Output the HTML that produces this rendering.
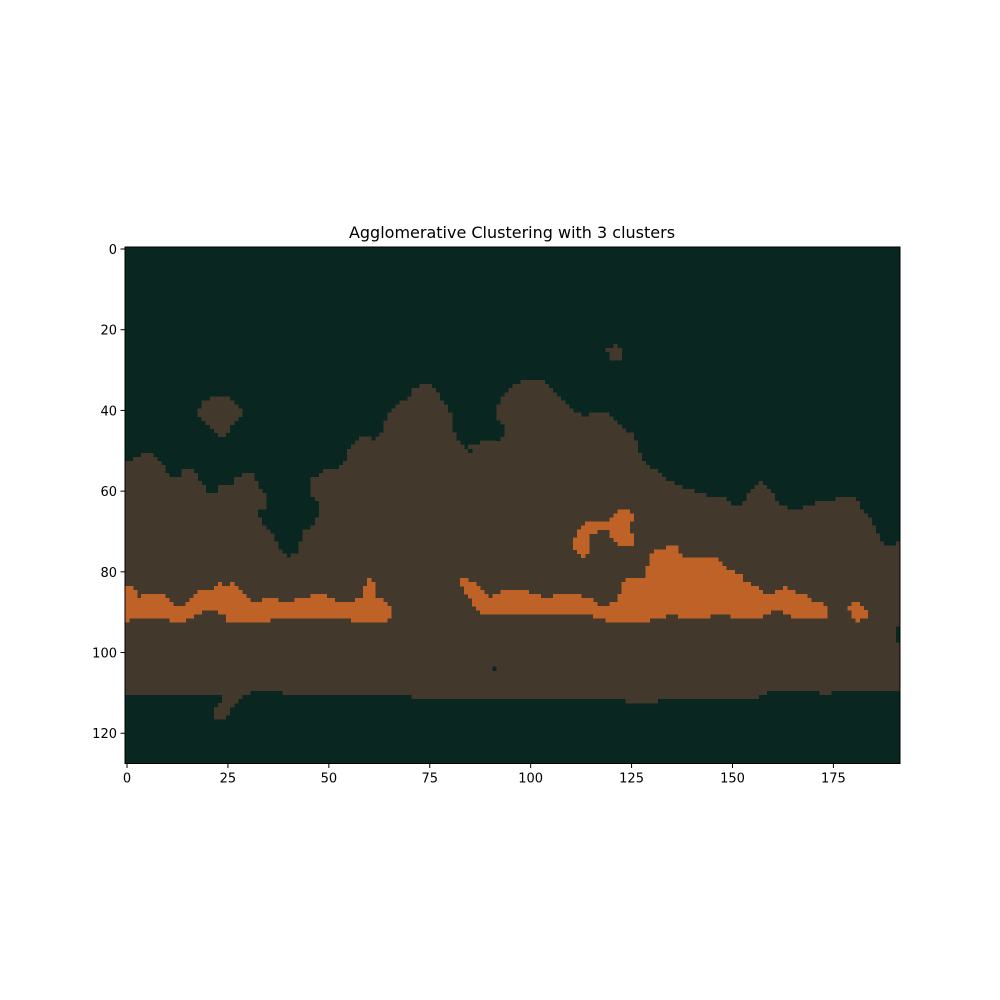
<!DOCTYPE html>
<html><head><meta charset="utf-8"><style>
html,body{margin:0;padding:0;background:#fff;width:1000px;height:1000px;overflow:hidden}
svg text{font-family:"DejaVu Sans","Liberation Sans",sans-serif;fill:#000}
</style></head><body>
<svg id="chart" width="1000" height="1000" viewBox="0 0 1000 1000" xmlns="http://www.w3.org/2000/svg">
<text x="512" y="238" font-size="16" text-anchor="middle">Agglomerative Clustering with 3 clusters</text>
<g id="cells" shape-rendering="crispEdges"></g>
<g id="axes"></g>
</svg>
<script>
const nCols = 192, nRows = 128;
// brown region top edge runs [startCol, firstBrownRow]
const topRuns = [[0,53],[2,52],[4,51],[7,52],[8,53],[9,54],[10,56],[11,57],[14,55],[17,56],[18,58],[19,59],[20,61],[23,59],[27,57],[29,56],[32,58],[33,60],[34,61],[35,70],[36,71],[37,73],[38,75],[39,76],[40,77],[41,76],[43,73],[44,70],[46,57],[48,56],[49,55],[53,54],[54,53],[55,50],[56,49],[57,48],[58,47],[61,48],[62,47],[63,46],[64,43],[65,41],[66,40],[67,39],[68,38],[70,37],[71,35],[73,34],[76,35],[77,36],[78,38],[79,39],[80,41],[81,46],[82,48],[83,49],[84,50],[85,49],[88,48],[92,39],[93,37],[94,36],[95,35],[96,34],[98,33],[104,34],[105,35],[106,36],[107,37],[108,38],[109,39],[110,40],[111,41],[113,42],[115,41],[120,42],[121,43],[122,44],[123,45],[124,46],[126,48],[127,51],[128,53],[129,54],[130,55],[132,56],[133,57],[134,58],[136,59],[138,60],[141,61],[144,62],[149,63],[150,64],[153,63],[154,61],[155,60],[156,59],[157,58],[158,59],[159,60],[160,61],[161,63],[162,64],[164,65],[168,64],[171,63],[176,62],[181,63],[182,65],[183,66],[184,67],[185,69],[186,71],[187,73],[188,74],[191,73]];
// brown region bottom runs [startCol, firstDarkRow]
const bottomRuns = [[0,111],[31,110],[39,111],[71,112],[124,113],[132,112],[157,111],[159,110],[172,111],[175,110]];
// orange band top runs [startCol, row] (-1 = none)
const orangeTopRuns = [[0,84],[2,85],[3,87],[4,86],[10,87],[11,88],[12,89],[15,88],[16,87],[17,86],[18,85],[22,84],[23,83],[24,84],[26,83],[27,84],[28,85],[29,86],[30,87],[31,88],[34,87],[38,88],[42,87],[46,86],[50,87],[52,88],[57,87],[59,84],[60,82],[61,83],[62,87],[64,88],[65,89],[66,-1],[83,82],[85,83],[87,84],[88,85],[89,86],[90,87],[91,86],[93,85],[100,86],[103,87],[106,86],[113,87],[116,88],[117,89],[120,88],[122,86],[123,83],[124,82],[129,79],[130,76],[131,75],[134,74],[137,76],[138,77],[147,78],[148,79],[149,80],[151,81],[153,83],[155,84],[157,85],[158,86],[161,85],[163,84],[164,85],[166,86],[169,87],[170,88],[173,89],[174,-1]];
// orange band bottom runs [startCol, firstNonOrangeRow]
const orangeBotRuns = [[0,93],[1,92],[11,93],[15,92],[17,91],[19,90],[23,91],[25,93],[36,92],[56,93],[65,92],[66,-1],[83,84],[84,86],[85,87],[86,89],[87,90],[88,91],[116,92],[119,93],[130,92],[134,91],[137,92],[145,91],[150,92],[158,91],[160,90],[163,91],[165,92],[174,-1]];
// extra patches [col0, col1, row0, row1] inclusive
const brownPatches = [[21,25,37,37],[19,26,38,38],[19,27,39,39],[18,28,40,41],[19,27,42,42],[20,26,43,43],[21,25,44,44],[22,25,45,45],[23,24,46,46],[121,121,24,24],[119,122,25,25],[120,122,26,27],[22,22,114,116],[23,23,113,116],[24,24,111,116],[25,25,111,115],[26,26,111,113],[27,27,111,112],[28,28,111,111]];
const darkPatches = [[33,33,65,66],[34,34,65,68],[46,46,62,68],[47,47,63,66],[92,92,43,47],[93,93,44,46],[85,85,50,50],[91,91,104,104],[191,191,94,97]];
const orangePatches = [[111,111,72,74],[112,112,70,75],[113,113,69,76],[114,114,68,75],[115,116,68,70],[117,119,68,69],[120,120,67,71],[121,121,66,72],[122,124,65,73],[125,125,66,67],[125,125,71,73],[179,179,89,89],[180,180,88,91],[181,181,88,92],[182,182,89,91],[183,183,90,91]];
const xTicks = [0,25,50,75,100,125,150,175];
const yTicks = [0,20,40,60,80,100,120];

const X0 = 125, X1 = 900, Y0 = 247, Y1 = 763.5;
const cw = (X1 - X0) / nCols, ch = (Y1 - Y0) / nRows;
const xs = c => X0 + c * cw;
const ys = r => Y0 + r * ch;
const DARK = '#0a2620', BROWN = '#42382b', ORANGE = '#bf6228';
const NS = 'http://www.w3.org/2000/svg';
const cells = document.getElementById('cells');
const axes = document.getElementById('axes');

function runVal(runs, c) { let v = runs[0][1]; for (const r of runs) { if (r[0] <= c) v = r[1]; else break; } return v; }
function rect(g, c0, c1, r0, r1, fill, name) {
  const e = document.createElementNS(NS, 'rect');
  e.setAttribute('x', xs(c0)); e.setAttribute('y', ys(r0));
  e.setAttribute('width', xs(c1 + 1) - xs(c0) + 0.3); e.setAttribute('height', ys(r1 + 1) - ys(r0) + 0.3);
  e.setAttribute('fill', fill);
  
  
  g.appendChild(e);
}
rect(cells, 0, nCols - 1, 0, nRows - 1, DARK, 'background-cluster');
for (let c = 0; c < nCols; c++) {
  const t = runVal(topRuns, c), b = runVal(bottomRuns, c);
  rect(cells, c, c, t, b - 1, BROWN, 'middle-cluster-column');
}
for (const p of brownPatches) rect(cells, p[0], p[1], p[2], p[3], BROWN, 'middle-cluster-patch');
for (const p of darkPatches) rect(cells, p[0], p[1], p[2], p[3], DARK, 'background-cluster-patch');
for (let c = 0; c < nCols; c++) {
  const t = runVal(orangeTopRuns, c), b = runVal(orangeBotRuns, c);
  if (t >= 0 && b > t) rect(cells, c, c, t, b - 1, ORANGE, 'orange-cluster-column');
}
for (const p of orangePatches) rect(cells, p[0], p[1], p[2], p[3], ORANGE, 'orange-cluster-patch');

const fr = document.createElementNS(NS, 'rect');
fr.setAttribute('x', X0); fr.setAttribute('y', Y0); fr.setAttribute('width', X1 - X0); fr.setAttribute('height', Y1 - Y0);
fr.setAttribute('fill', 'none'); fr.setAttribute('stroke', '#000'); fr.setAttribute('stroke-width', '1');


axes.appendChild(fr);
function line(x1, y1, x2, y2, name) {
  const l = document.createElementNS(NS, 'line');
  l.setAttribute('x1', x1); l.setAttribute('y1', y1); l.setAttribute('x2', x2); l.setAttribute('y2', y2);
  l.setAttribute('stroke', '#000'); l.setAttribute('stroke-width', '1');
  
  
  axes.appendChild(l);
}
function label(x, y, s, anchor, name) {
  const t = document.createElementNS(NS, 'text');
  t.setAttribute('x', x); t.setAttribute('y', y); t.setAttribute('font-size', '13'); t.setAttribute('text-anchor', anchor);
  t.textContent = s;
  
  
  axes.appendChild(t);
}
for (const v of xTicks) {
  const x = xs(v + 0.5);
  line(x, Y1, x, Y1 + 4.5, 'x-tick');
  label(x, Y1 + 19, String(v), 'middle', 'x-tick-label');
}
for (const v of yTicks) {
  const y = ys(v + 0.5);
  line(X0 - 4.5, y, X0, y, 'y-tick');
  label(X0 - 8, y + 5, String(v), 'end', 'y-tick-label');
}
</script>
</body></html>
